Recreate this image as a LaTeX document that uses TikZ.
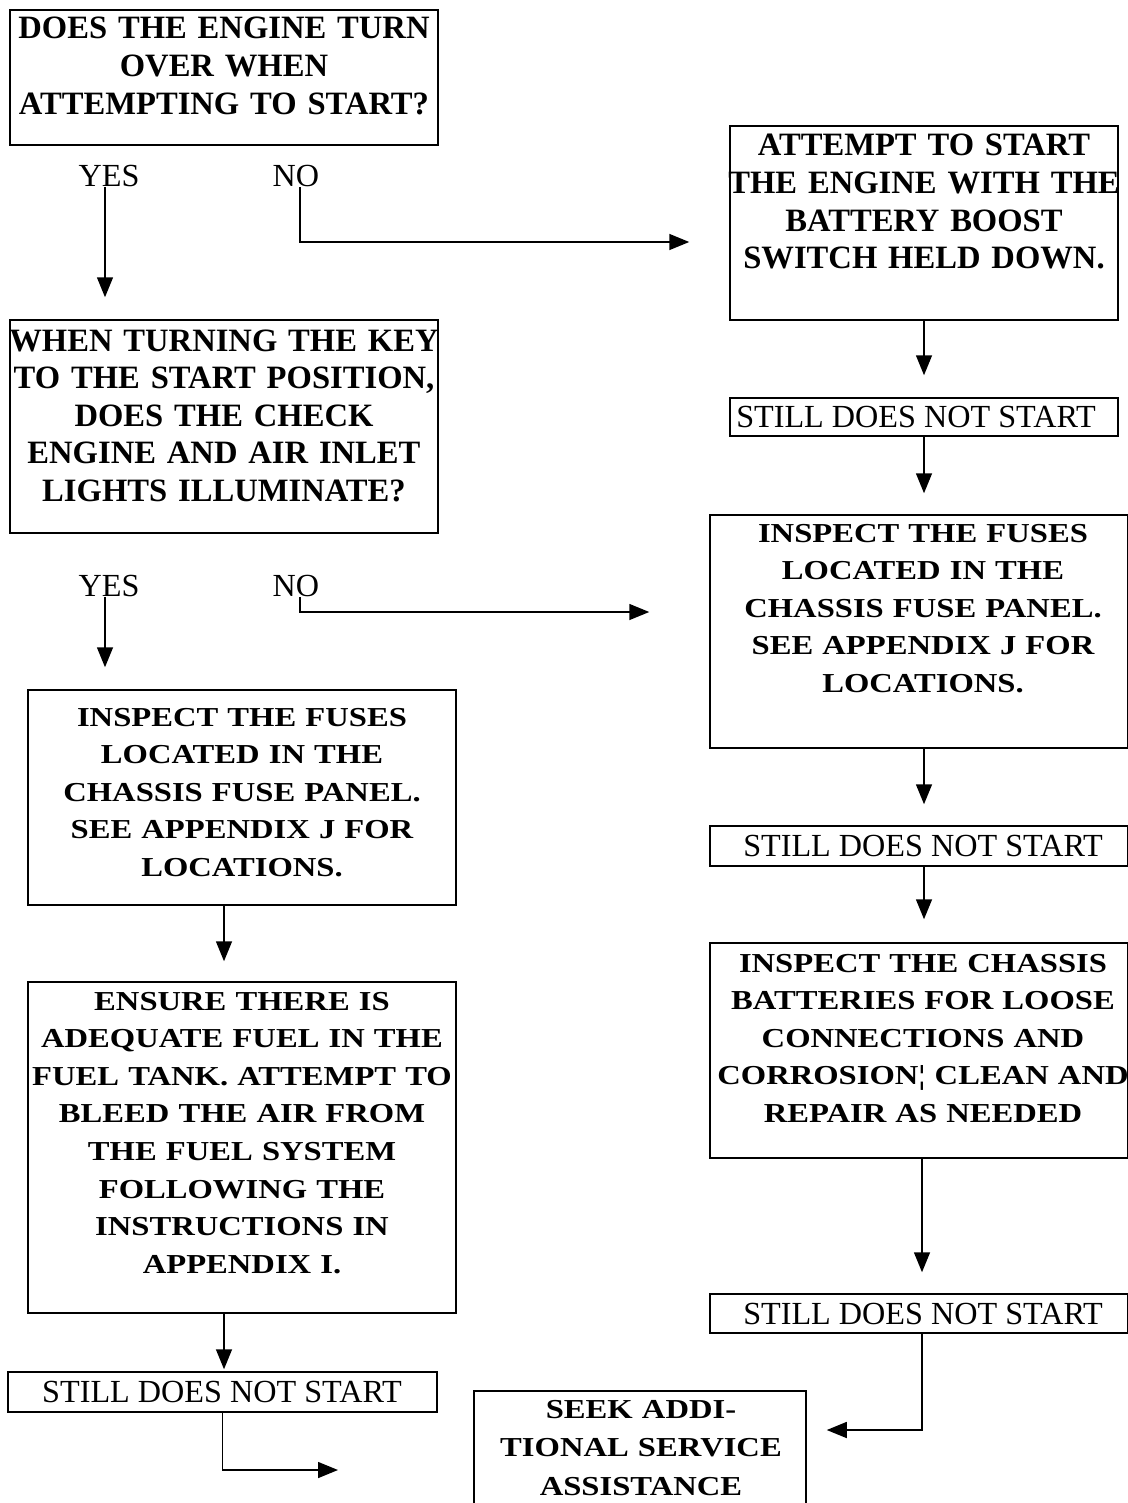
\documentclass[tikz,border=0pt]{standalone}
\usepackage{fontspec}
\setmainfont{Liberation Serif}
\newfontfamily\etire{Liberation Serif}[FakeStretch=1.19]
\usetikzlibrary{arrows.meta,fit}

\begin{document}
\begin{tikzpicture}[x=0.5pt, y=-0.5pt]
	\tikzset{boite/.style={draw=black, line width=0.75pt, inner sep=0pt},
	texte/.style={text width=230pt, align=center, inner sep=0pt, anchor=base, font=\bfseries\fontsize{16.3}{18.8}\selectfont},
	texte large/.style={texte, font=\etire\bfseries\fontsize{13.7}{18.8}\selectfont},
	normal/.style={inner sep=0pt, font=\fontsize{16.1}{18.8}\selectfont},
	fleche/.style={line width=0.75pt, -{Triangle[length=10pt, width=8pt]}}};

	\useasboundingbox (0,0) rectangle (1128,1503);
	\clip (0,0) rectangle (1128,1503);

	% questions, left column
	\node[boite, fit={(10,10) (438,145)}] (q1) {};
	\node[texte] (q1-txt) at (224,39) {DOES THE ENGINE TURN\\ OVER WHEN\\ ATTEMPTING TO START?};
	\node[normal] (q1-oui) at (109,176) {YES};
	\node[normal] (q1-non) at (296,176) {NO};

	\node[boite, fit={(10,320) (438,533)}] (q2) {};
	\node[texte] (q2-txt) at (224,351) {WHEN TURNING THE KEY\\ TO THE START POSITION,\\ DOES THE CHECK\\ ENGINE AND AIR INLET\\ LIGHTS ILLUMINATE?};
	\node[normal] (q2-oui) at (109,586) {YES};
	\node[normal] (q2-non) at (296,586) {NO};

	\node[boite, fit={(28,690) (456,905)}] (f2) {};
	\node[texte large] (f2-txt) at (242,726) {INSPECT THE FUSES\\ LOCATED IN THE\\ CHASSIS FUSE PANEL.\\ SEE APPENDIX J FOR\\ LOCATIONS.};

	\node[boite, fit={(28,982) (456,1313)}] (e) {};
	\node[texte large] (e-txt) at (242,1010) {ENSURE THERE IS\\ ADEQUATE FUEL IN THE\\ FUEL TANK. ATTEMPT TO\\ BLEED THE AIR FROM\\ THE FUEL SYSTEM\\ FOLLOWING THE\\ INSTRUCTIONS IN\\ APPENDIX I.};

	% actions, right column
	\node[boite, fit={(730,126) (1118,320)}] (a1) {};
	\node[texte] (a1-txt) at (924,156) {ATTEMPT TO START\\ THE ENGINE WITH THE\\ BATTERY BOOST\\ SWITCH HELD DOWN.};

	\node[boite, fit={(710,515) (1128,748)}] (f1) {};
	\node[texte large] (f1-txt) at (923,542) {INSPECT THE FUSES\\ LOCATED IN THE\\ CHASSIS FUSE PANEL.\\ SEE APPENDIX J FOR\\ LOCATIONS.};

	\node[boite, fit={(710,943) (1128,1158)}] (b) {};
	\node[texte large] (b-txt) at (923,972) {INSPECT THE CHASSIS\\ BATTERIES FOR LOOSE\\ CONNECTIONS AND\\ CORROSION¦ CLEAN AND\\ REPAIR AS NEEDED};

	\node[boite, fit={(474,1391) (806,1530)}] (seek) {};
	\node[texte large, font=\etire\bfseries\fontsize{13.7}{19.3}\selectfont] (seek-txt) at (641,1418) {SEEK ADDI-\\ TIONAL SERVICE\\ ASSISTANCE};

	\foreach \name/\xa/\ya/\xb/\yb/\xt in {s1/730/398/1118/436/916, s2/710/826/1128/866/923,
		s3/710/1294/1128/1333/923, s4/8/1372/437/1412/222}{
		\node[boite, fit={(\xa,\ya) (\xb,\yb)}] (\name) {};
		\node[normal] (\name-txt) at (\xt, {(\ya+\yb)/2}) {STILL DOES NOT START};
	}

	\coordinate (q1-coude) at (300,242);
	\coordinate (q2-coude) at (300,612);
	\coordinate (s3-coude) at (922,1430);
	\coordinate (s4-fin) at (338,1470);

	\draw[fleche, shorten >=11pt] ([xshift=-2pt]q1-oui.south) -- ([xshift=-2pt]q1-oui.south |- q2.north);
	\draw[fleche, shorten >=20pt] ([xshift=2pt]q1-non.south) |- (q1-coude -| a1.west);
	\draw[fleche, shorten >=11pt] ([xshift=-2pt]q2-oui.south) -- ([xshift=-2pt]q2-oui.south |- f2.north);
	\draw[fleche, shorten >=30pt] ([xshift=2pt]q2-non.south) |- (q2-coude -| f1.west);
	\draw[fleche, shorten >=10pt] (f2.south -| q2.south) -- (e.north -| q2.south);
	\draw[fleche, shorten >=1pt] (e.south -| q2.south) -- (s4.north -| q2.south);
	\draw[fleche] (s4.south) |- (s4-fin);

	\draw[fleche, shorten >=11pt] (a1) -- (s1);
	\draw[fleche, shorten >=10.5pt] (s1.south) -- (s1.south |- f1.north);
	\draw[fleche, shorten >=10.5pt] (f1.south -| s1.south) -- (s2.north -| s1.south);
	\draw[fleche, shorten >=11.5pt] (s2.south -| s1.south) -- (b.north -| s1.south);
	\draw[fleche, shorten >=10.5pt] ([xshift=1.5pt]b.south) -- ([xshift=1.5pt]b.south |- s3.north);
	\draw[fleche, shorten >=10pt] ([xshift=1.5pt]s3.south) |- (s3-coude -| seek.east);

\end{tikzpicture}
\end{document}
